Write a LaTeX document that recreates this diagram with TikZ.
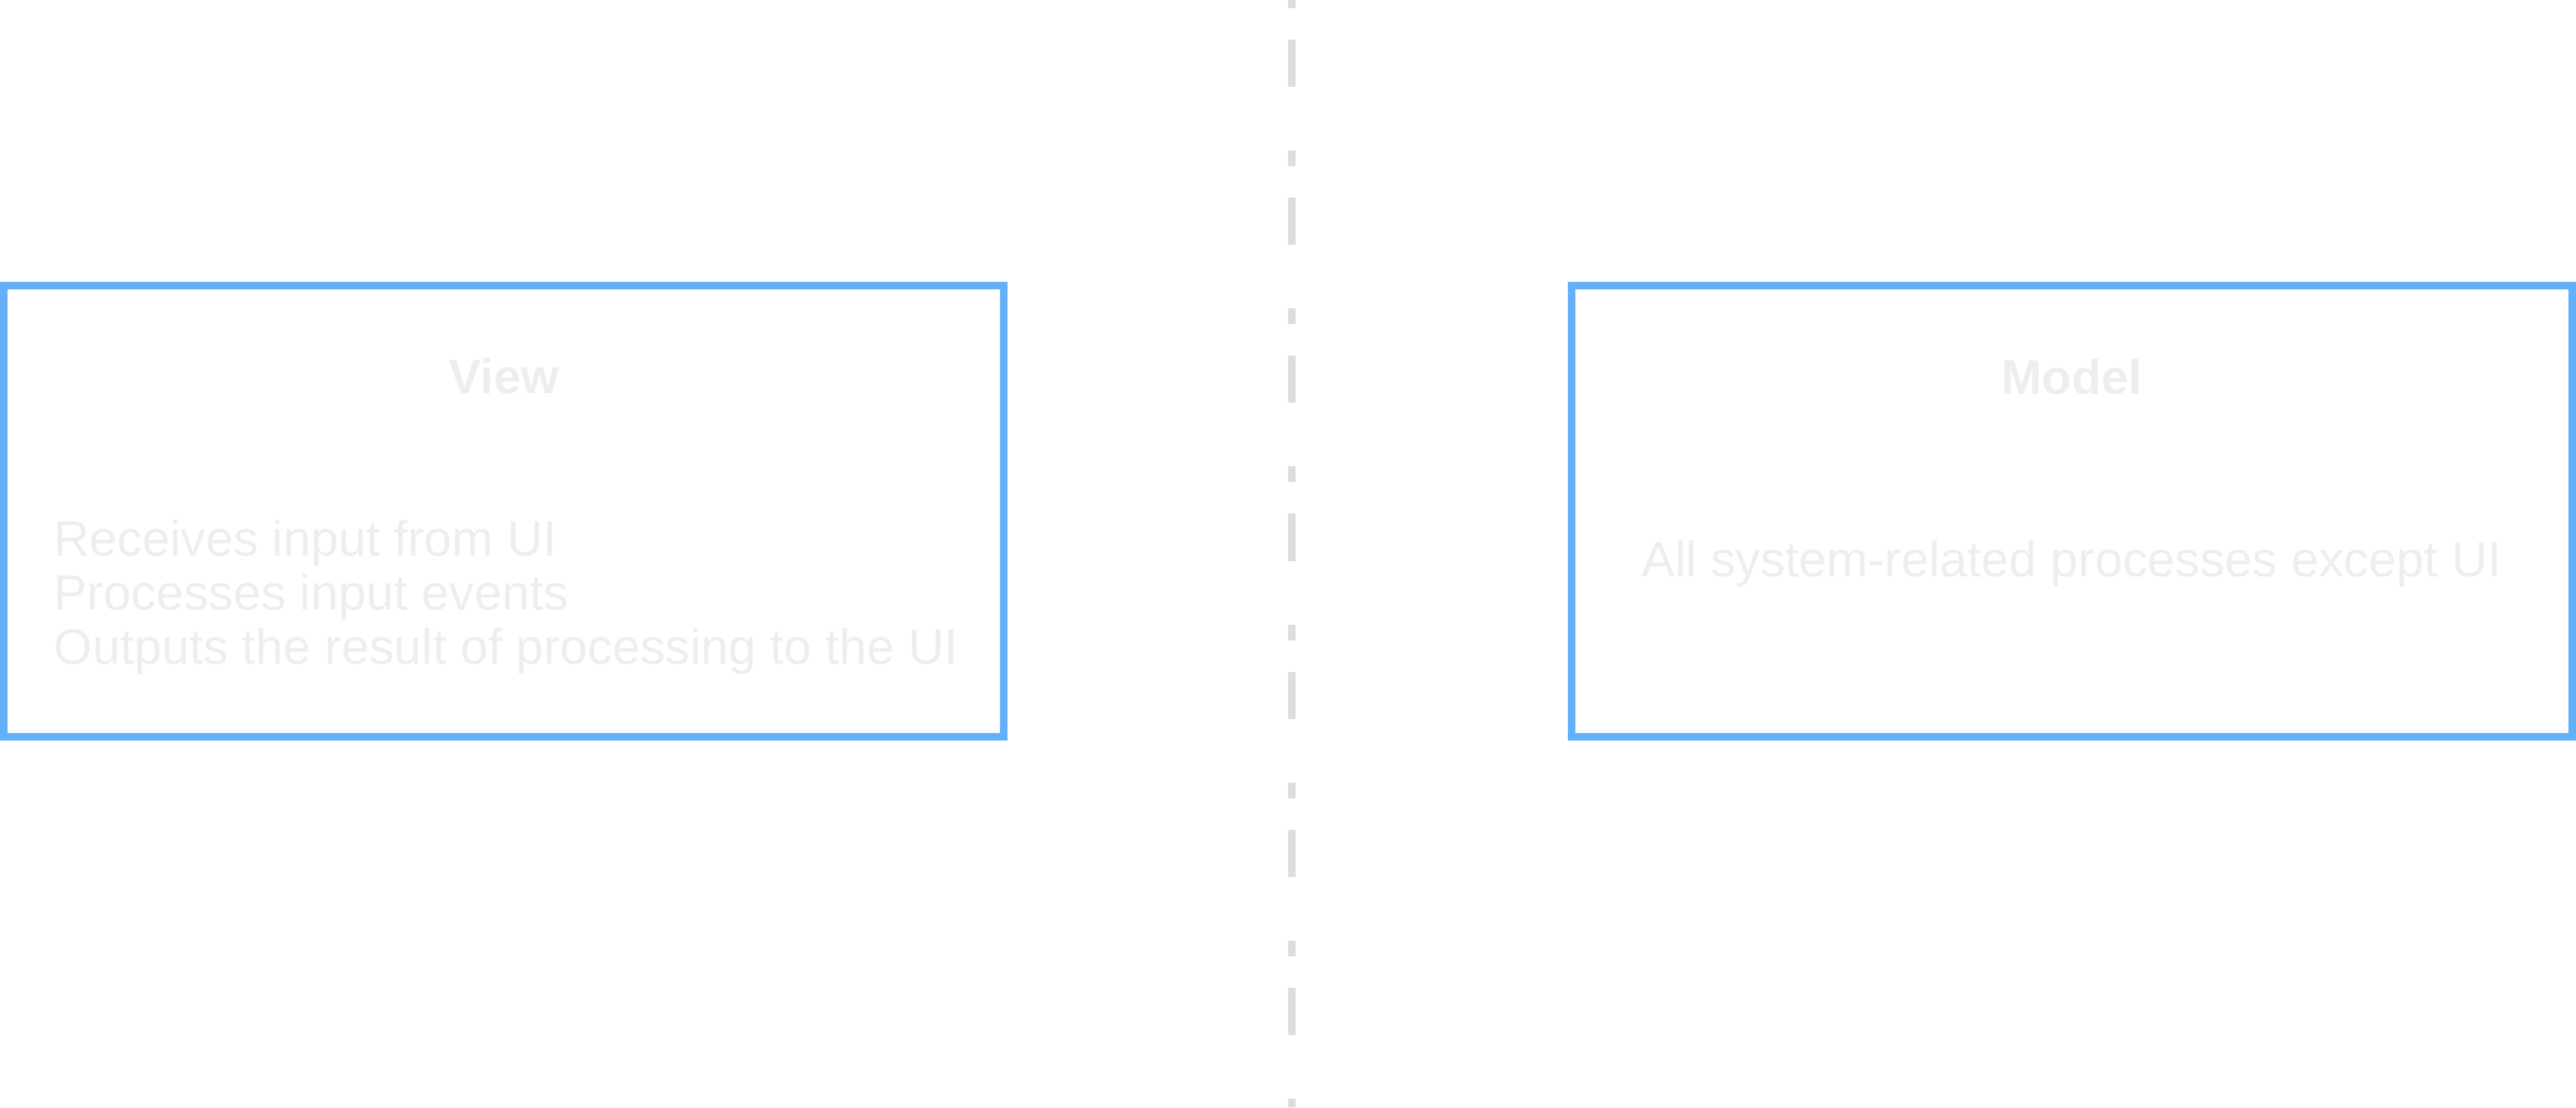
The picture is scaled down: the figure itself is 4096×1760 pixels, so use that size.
\documentclass[tikz,border=0pt]{standalone}
\usepackage{fontspec}
\setmainfont{Liberation Sans}
\usepackage{tikz}
\usetikzlibrary{positioning}

\definecolor{boxblue}{HTML}{64B0F8}
\definecolor{textgrey}{HTML}{EEEEEE}
\definecolor{divgrey}{HTML}{DDDDDD}

\begin{document}
\begin{tikzpicture}[x=0.01cm, y=-0.01cm,
    layerbox/.style={draw=boxblue, line width=3.41pt, minimum width=15.9cm, minimum height=7.17cm, inner sep=0pt},
    layertitle/.style={text=textgrey, font=\fontsize{22}{26}\selectfont\bfseries, anchor=base, inner sep=0pt},
    layertext/.style={text=textgrey, font=\fontsize{22.5}{26}\selectfont, inner sep=0pt},
    divider/.style={draw=divgrey, line width=3.41pt, dash pattern=on 0.25cm off 0.5cm on 0.75cm off 1.01cm, dash phase=0.12cm}]
    \useasboundingbox (0,0) rectangle (4096,1760);

    % divider between the two layers
    \coordinate (divtop) at (2054,0);
    \coordinate (divbot) at (2054,1760);
    \draw[divider] (divtop) -- (divbot);

    % view
    \node[layerbox] (view) at (801,812.5) {};
    \node[layertitle] (viewtitle) at (801,625) {View};
    \foreach \i/\txt in {0/Receives input from UI, 1/Processes input events, 2/Outputs the result of processing to the UI} {
      \node[layertext, anchor=base west] (viewline\i) at (85,{883+\i*86}) {\txt};
    }

    % model
    \node[layerbox] (model) at (3294,812.5) {};
    \node[layertitle] (modeltitle) at (3294,626) {Model};
    \node[layertext, anchor=base] (modeltext) at (3294,916) {All system-related processes except UI};
  \end{tikzpicture}
\end{document}
